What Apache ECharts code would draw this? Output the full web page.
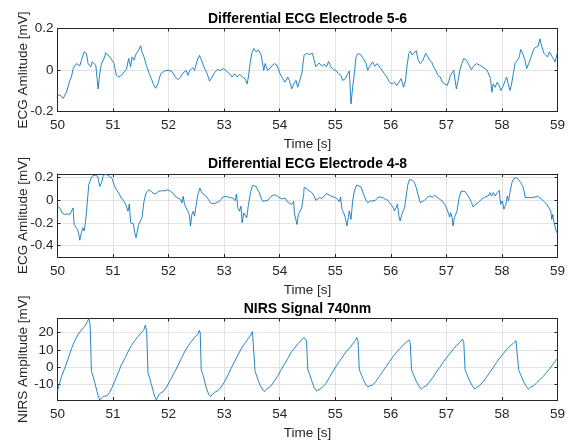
<!DOCTYPE html>
<html>
<head>
<meta charset="utf-8">
<script src="https://cdn.jsdelivr.net/npm/echarts@6/dist/echarts.min.js"></script>
<style>
html, body { margin: 0; padding: 0; background: #fff; }
#chart { width: 568px; height: 441px; }
</style>
</head>
<body>
<div id="chart"></div>
<script>
// panel titles and axis names
var titles = ["Differential ECG Electrode 5-6", "Differential ECG Electrode 4-8", "NIRS Signal 740nm"];
var yNames = ["ECG Amlitude [mV]", "ECG Amlitude [mV]", "NIRS Amplitude [mV]"];
var xName = "Time [s]";
// y ticks of each panel
var yTicks1 = [-0.2, 0, 0.2];
var yTicks2 = [-0.4, -0.2, 0, 0.2];
var yTicks3 = [-10, 0, 10, 20];

// ECG 5-6
var ecg56T = [50.000,50.042,50.102,50.162,50.222,50.251,50.281,50.311,50.341,50.371,50.401,50.431,50.479,50.521,50.551,50.599,50.623,50.659,50.689,50.731,50.760,50.790,50.838,50.868,50.910,50.940,50.982,51.018,51.060,51.102,51.150,51.198,51.240,51.281,51.317,51.341,51.377,51.419,51.461,51.497,51.521,51.557,51.599,51.641,51.689,51.737,51.766,51.808,51.856,51.898,51.946,52.006,52.060,52.120,52.168,52.216,52.257,52.287,52.317,52.347,52.383,52.407,52.437,52.467,52.515,52.557,52.587,52.635,52.695,52.737,52.766,52.814,52.874,52.934,52.994,53.036,53.096,53.144,53.186,53.216,53.234,53.275,53.335,53.377,53.413,53.437,53.467,53.497,53.533,53.575,53.617,53.665,53.713,53.737,53.784,53.844,53.904,53.952,54.006,54.054,54.096,54.144,54.174,54.216,54.251,54.293,54.323,54.355,54.397,54.439,
  54.482,54.530,54.590,54.620,54.650,54.680,54.710,54.759,54.801,54.843,54.879,54.921,54.963,55.012,55.060,55.102,55.132,55.180,55.222,55.253,55.283,55.313,55.343,55.373,55.415,55.463,55.506,55.554,55.584,55.614,55.644,55.674,55.710,55.753,55.795,55.843,55.885,55.927,55.976,56.024,56.066,56.108,56.144,56.186,56.229,56.265,56.289,56.325,56.355,56.385,56.421,56.457,56.494,56.530,56.578,56.626,56.668,56.698,56.735,56.771,56.807,56.849,56.891,56.927,56.969,57.012,57.048,57.072,57.108,57.132,57.150,57.180,57.210,57.241,57.277,57.313,57.361,57.409,57.451,57.482,57.542,57.602,57.650,57.692,57.735,57.771,57.795,57.819,57.843,57.879,57.915,57.951,57.982,58.024,58.060,58.084,58.114,58.144,58.174,58.204,58.235,58.277,58.313,58.337,58.373,58.415,58.445,58.494,58.536,58.578,58.614,58.650,58.686,58.716,58.759,58.789,58.819,58.855,58.897,58.927,58.957,59.000];
var ecg56V = [-0.124,-0.119,-0.137,-0.107,-0.050,-0.034,0.007,-0.002,0.031,0.023,0.020,0.023,0.088,0.080,0.031,0.015,0.039,0.047,0.023,-0.091,-0.018,0.031,0.055,0.083,0.072,0.067,0.047,0.031,-0.026,-0.034,-0.026,-0.010,0.002,0.055,0.015,0.063,0.047,0.080,0.096,0.117,0.088,0.063,0.023,-0.010,-0.042,-0.075,-0.088,-0.067,-0.018,-0.010,-0.002,-0.002,-0.007,-0.034,-0.047,-0.034,-0.015,-0.018,-0.002,-0.026,-0.002,0.002,0.011,-0.002,0.047,0.070,0.050,0.015,-0.018,-0.054,-0.042,-0.018,0.002,-0.002,0.007,-0.005,-0.018,-0.034,-0.018,-0.010,-0.034,-0.021,-0.034,-0.042,-0.067,-0.034,0.031,0.080,0.104,0.088,0.096,0.072,-0.002,0.031,-0.002,0.015,0.031,0.023,-0.018,-0.042,-0.059,-0.034,-0.050,-0.091,-0.067,-0.050,-0.083,-0.080,-0.018,0.072,
  0.080,0.075,0.080,0.047,0.015,0.023,0.034,0.018,0.028,0.015,0.041,0.015,0.002,-0.002,-0.018,-0.026,-0.050,-0.042,-0.018,-0.005,-0.164,-0.083,-0.018,0.063,0.080,0.072,0.055,0.031,-0.002,0.015,0.023,0.039,0.018,0.031,0.015,-0.002,-0.018,-0.034,-0.059,-0.067,-0.059,-0.075,-0.067,-0.042,-0.083,-0.050,0.015,0.080,0.091,0.072,0.080,0.093,0.047,0.031,0.047,0.080,0.063,0.047,0.039,0.015,-0.002,-0.026,-0.034,-0.059,-0.067,-0.075,-0.050,-0.026,-0.034,-0.002,0.007,-0.091,-0.050,-0.002,0.031,0.055,0.047,0.023,0.002,0.015,0.031,0.023,0.015,0.007,-0.002,-0.010,-0.042,-0.107,-0.067,-0.083,-0.059,-0.075,-0.099,-0.075,-0.050,-0.034,-0.067,-0.099,-0.067,-0.018,0.031,0.047,0.063,0.099,0.080,0.047,0.007,0.039,0.072,0.104,0.096,0.115,0.150,0.112,0.080,0.088,0.063,0.088,0.067,0.055,0.039,0.085];

// ECG 4-8
var ecg48T = [50.000,50.042,50.084,50.132,50.180,50.222,50.251,50.281,50.299,50.329,50.359,50.383,50.401,50.431,50.455,50.479,50.503,50.533,50.563,50.599,50.629,50.659,50.701,50.731,50.760,50.790,50.820,50.850,50.898,50.940,50.982,51.018,51.060,51.102,51.150,51.198,51.240,51.269,51.293,51.317,51.341,51.365,51.389,51.413,51.437,51.461,51.497,51.521,51.557,51.593,51.641,51.689,51.737,51.778,51.820,51.868,51.928,51.988,52.036,52.078,52.120,52.168,52.216,52.240,52.263,52.287,52.317,52.347,52.371,52.395,52.419,52.443,52.467,52.497,52.527,52.563,52.599,52.635,52.677,52.719,52.754,52.796,52.856,52.916,52.976,53.036,53.096,53.156,53.198,53.222,53.246,53.275,53.305,53.323,53.353,53.377,53.407,53.437,53.473,53.509,53.545,53.575,53.605,53.635,53.665,53.695,53.725,53.784,53.844,53.904,53.964,54.006,54.054,54.096,54.132,54.174,54.216,54.251,54.263,54.293,54.311,54.335,54.365,54.395,54.431,
  54.439,54.482,54.530,54.578,54.620,54.650,54.680,54.722,54.759,54.801,54.843,54.879,54.921,54.951,55.000,55.042,55.072,55.096,55.120,55.150,55.180,55.210,55.235,55.253,55.283,55.313,55.343,55.385,55.421,55.463,55.506,55.554,55.584,55.626,55.674,55.722,55.765,55.807,55.855,55.903,55.945,55.976,56.006,56.036,56.066,56.096,56.120,56.144,56.168,56.198,56.229,56.247,56.277,56.307,56.337,56.385,56.427,56.457,56.488,56.530,56.566,56.608,56.650,56.698,56.747,56.789,56.831,56.879,56.927,56.969,57.000,57.030,57.060,57.078,57.102,57.120,57.144,57.168,57.192,57.229,57.271,57.301,57.337,57.373,57.409,57.451,57.482,57.530,57.572,57.632,57.692,57.753,57.783,57.813,57.843,57.879,57.915,57.951,57.976,58.006,58.036,58.072,58.096,58.120,58.144,58.180,58.216,58.253,58.295,58.337,58.385,58.421,58.457,58.506,58.554,58.596,58.638,58.674,58.716,58.759,58.807,58.843,58.879,58.897,58.915,58.939,58.976,59.000];
var ecg48V = [-0.052,-0.067,-0.111,-0.125,-0.119,-0.125,-0.140,-0.067,-0.213,-0.227,-0.256,-0.300,-0.352,-0.285,-0.242,-0.271,-0.198,-0.038,0.137,0.189,0.215,0.230,0.224,0.195,0.122,0.151,0.210,0.230,0.224,0.210,0.195,0.137,0.093,0.064,0.020,-0.009,-0.052,-0.096,-0.032,-0.198,-0.213,-0.207,-0.285,-0.329,-0.271,-0.213,-0.227,-0.154,-0.009,0.064,0.093,0.079,0.055,0.064,0.079,0.084,0.084,0.093,0.079,0.064,0.035,0.020,0.006,-0.023,0.035,-0.038,-0.067,-0.052,-0.125,-0.227,-0.125,-0.096,-0.140,-0.038,0.049,0.108,0.064,0.049,0.035,0.006,-0.023,-0.029,-0.023,-0.009,0.029,0.035,0.026,0.020,-0.003,0.055,-0.067,-0.096,-0.052,-0.198,-0.111,-0.096,-0.154,-0.038,0.064,0.131,0.146,0.122,0.108,0.064,0.020,-0.009,0.006,0.000,0.035,0.049,0.035,0.020,0.012,0.020,-0.009,-0.023,-0.038,-0.009,-0.111,-0.125,-0.213,-0.125,-0.140,-0.067,0.049,
  0.112,0.106,0.082,0.068,0.038,0.000,0.009,0.024,0.015,0.038,0.059,0.053,0.038,0.029,0.024,0.009,-0.012,0.029,-0.079,-0.109,-0.153,-0.226,-0.153,-0.094,-0.168,-0.006,0.082,0.135,0.141,0.118,0.059,0.000,-0.021,-0.006,-0.006,0.000,0.024,0.029,0.024,0.009,0.000,-0.021,-0.035,-0.059,-0.094,-0.109,-0.035,-0.138,-0.182,-0.124,-0.109,-0.065,0.038,0.141,0.185,0.176,0.156,0.112,0.053,-0.021,-0.012,0.000,0.024,0.038,0.029,0.044,0.029,0.009,-0.006,-0.035,-0.065,-0.079,-0.147,-0.109,-0.153,-0.226,-0.153,-0.124,-0.094,0.024,0.082,0.097,0.076,0.053,0.024,-0.021,-0.059,-0.035,-0.021,0.009,0.029,0.038,0.068,0.038,0.068,0.038,0.068,0.088,-0.035,-0.006,-0.079,-0.035,0.038,-0.006,0.068,0.156,0.194,0.200,0.185,0.156,0.112,0.024,0.018,0.024,0.024,0.029,0.038,0.047,0.009,-0.012,-0.035,-0.065,-0.094,-0.168,-0.124,-0.197,-0.271,-0.294];

// NIRS 740nm
var nirsT = [50.000,50.042,50.072,50.132,50.192,50.251,50.311,50.371,50.431,50.491,50.539,50.563,50.587,50.611,50.641,50.671,50.701,50.731,50.760,50.790,50.820,50.850,50.898,50.940,50.982,51.030,51.090,51.150,51.210,51.269,51.329,51.389,51.449,51.509,51.557,51.581,51.605,51.629,51.659,51.689,51.719,51.749,51.778,51.808,51.832,51.868,51.916,51.976,52.036,52.096,52.168,52.228,52.287,52.347,52.407,52.467,52.527,52.551,52.569,52.587,52.617,52.647,52.677,52.719,52.754,52.790,52.826,52.886,52.946,53.006,53.066,53.126,53.186,53.246,53.305,53.365,53.425,53.485,53.509,53.533,53.557,53.587,53.617,53.653,53.689,53.725,53.760,53.796,53.844,53.904,53.964,54.024,54.084,54.144,54.204,54.263,54.323,54.383,
  54.433,54.457,54.482,54.506,54.542,54.578,54.620,54.662,54.692,54.722,54.771,54.831,54.891,54.951,55.012,55.072,55.132,55.192,55.253,55.313,55.361,55.385,55.409,55.433,55.469,55.506,55.542,55.584,55.626,55.674,55.735,55.795,55.855,55.915,55.976,56.036,56.096,56.156,56.216,56.277,56.325,56.349,56.373,56.409,56.457,56.506,56.548,56.590,56.638,56.698,56.759,56.819,56.879,56.939,57.000,57.060,57.120,57.180,57.241,57.289,57.313,57.337,57.373,57.421,57.469,57.512,57.554,57.602,57.662,57.722,57.783,57.843,57.903,57.963,58.024,58.084,58.144,58.204,58.253,58.277,58.301,58.337,58.385,58.433,58.476,58.518,58.566,58.626,58.686,58.747,58.807,58.867,58.927,59.000];
var nirsV = [-13.6,-8.9,-5.2,-0.6,5.0,10.6,15.3,19.0,21.4,23.6,26.4,28.0,24.6,-2.4,-5.2,-8.9,-12.7,-16.4,-18.9,-18.9,-16.9,-16.8,-16.4,-14.5,-11.7,-8.0,-3.4,1.3,5.0,8.8,12.5,15.3,17.7,19.9,21.8,24.2,20.9,-3.4,-6.1,-9.9,-13.2,-16.9,-18.8,-18.2,-15.5,-15.1,-13.6,-10.8,-7.1,-3.4,0.9,5.0,8.8,12.1,14.7,17.1,19.0,21.2,19.9,-1.5,-4.3,-8.0,-11.7,-15.5,-16.9,-15.8,-14.5,-13.6,-11.4,-8.4,-4.7,-0.6,3.2,6.9,10.6,13.4,16.2,19.0,20.5,19.6,-2.4,-5.2,-8.0,-10.8,-12.7,-14.0,-12.7,-12.1,-10.8,-8.0,-5.2,-1.5,1.7,5.0,8.4,11.0,13.4,15.3,
  17.1,17.7,15.3,-1.5,-4.3,-8.0,-11.7,-13.6,-14.5,-12.7,-11.4,-9.5,-6.1,-2.8,0.4,3.2,6.0,8.8,11.0,13.4,15.3,17.1,15.3,-1.5,-4.3,-7.1,-9.5,-11.4,-10.8,-10.2,-8.0,-5.2,-2.4,0.4,3.2,6.0,8.4,10.6,12.5,14.3,15.8,14.3,-1.5,-4.3,-8.0,-10.8,-12.7,-11.4,-10.8,-8.4,-5.8,-2.8,-0.2,2.8,5.4,7.8,10.2,12.5,14.3,16.2,14.3,-1.5,-4.3,-8.0,-10.8,-12.7,-11.4,-10.4,-8.4,-5.8,-2.8,-0.2,2.8,5.4,7.8,10.2,12.1,13.8,15.3,14.3,-1.5,-4.3,-8.0,-10.8,-12.7,-11.4,-10.8,-8.9,-7.1,-5.2,-2.8,-0.6,2.2,5.0];

var font = "Liberation Sans, Arial, Helvetica, sans-serif";
var lineColor = "#0072BD";
var boxColor = "#262626";
var gridColor = "#e3e3e3";

function pairs(t, v) {
  var out = [];
  for (var i = 0; i < t.length; i++) {
    out.push([t[i], v[i]]);
  }
  return out;
}

// panel boxes
var tops = [28.5, 174, 318.5];
var heights = [83, 83, 85];
var yRange = [[-0.2, 0.2], [-0.5, 0.232], [-18.9, 28.1]];
var yTicks = [yTicks1, yTicks2, yTicks3];
var series = [pairs(ecg56T, ecg56V), pairs(ecg48T, ecg48V), pairs(nirsT, nirsV)];

var option = {
  animation: false,
  backgroundColor: "#fff",
  title: [],
  grid: [],
  xAxis: [],
  yAxis: [],
  series: []
};

for (var i = 0; i < 3; i++) {
  option.title.push({
    text: titles[i],
    left: 307.5,
    top: tops[i] - 16.5,
    textAlign: "center",
    padding: 0,
    textStyle: { fontFamily: font, fontSize: 14, fontWeight: "bold", color: "#000" }
  });
  option.grid.push({ left: 57.5, right: 10.5, top: tops[i], height: heights[i] });
  // bottom x axis
  option.xAxis.push({
    type: "value",
    gridIndex: i,
    min: 50,
    max: 59,
    interval: 1,
    name: xName,
    nameLocation: "middle",
    nameGap: 26,
    nameMoveOverlap: false,
    nameTextStyle: { fontFamily: font, fontSize: 13.5, color: boxColor },
    axisLine: { onZero: false, lineStyle: { color: boxColor, width: 1 } },
    axisTick: { inside: true, length: 3, lineStyle: { color: boxColor } },
    axisLabel: { fontFamily: font, fontSize: 13.5, color: boxColor, margin: 7 },
    splitLine: { show: true, lineStyle: { color: gridColor, width: 1 } }
  });
  // left y axis
  option.yAxis.push({
    type: "value",
    gridIndex: i,
    min: yRange[i][0],
    max: yRange[i][1],
    name: yNames[i],
    nameLocation: "middle",
    nameGap: 27,
    nameMoveOverlap: false,
    nameTextStyle: { fontFamily: font, fontSize: 13.5, color: boxColor },
    axisLine: { show: true, onZero: false, lineStyle: { color: boxColor, width: 1 } },
    axisTick: { show: true, inside: true, length: 3, lineStyle: { color: boxColor }, customValues: yTicks[i] },
    axisLabel: { fontFamily: font, fontSize: 13.5, color: boxColor, margin: 4, customValues: yTicks[i] },
    splitLine: { show: true, lineStyle: { color: gridColor, width: 1 } }
  });
  option.series.push({
    type: "line",
    xAxisIndex: i,
    yAxisIndex: i,
    data: series[i],
    showSymbol: false,
    symbol: "none",
    clip: true,
    lineStyle: { color: lineColor, width: 1, opacity: 0.85 },
    itemStyle: { color: lineColor }
  });
}

// top and right edges of each box, ticks inside
for (var j = 0; j < 3; j++) {
  option.xAxis.push({
    type: "value",
    gridIndex: j,
    position: "top",
    min: 50,
    max: 59,
    interval: 1,
    axisLine: { onZero: false, lineStyle: { color: boxColor, width: 1 } },
    axisTick: { inside: true, length: 3, lineStyle: { color: boxColor } },
    axisLabel: { show: false },
    splitLine: { show: false }
  });
  option.yAxis.push({
    type: "value",
    gridIndex: j,
    position: "right",
    min: yRange[j][0],
    max: yRange[j][1],
    axisLine: { show: true, onZero: false, lineStyle: { color: boxColor, width: 1 } },
    axisTick: { show: true, inside: true, length: 3, lineStyle: { color: boxColor }, customValues: yTicks[j] },
    axisLabel: { show: false },
    splitLine: { show: false }
  });
}

var chart = echarts.init(document.getElementById("chart"));
chart.setOption(option);
</script>
</body>
</html>
